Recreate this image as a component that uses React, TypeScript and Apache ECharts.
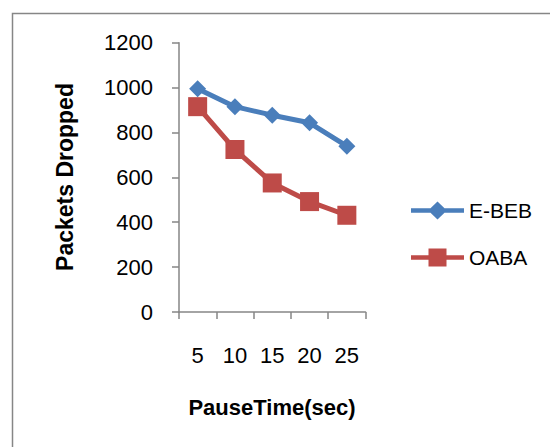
import React, { useEffect, useRef } from "react";
import * as echarts from "echarts";

const categories = ["5", "10", "15", "20", "25"];
const ebeb = [995, 915, 877, 843, 739];
const oaba = [915, 724, 575, 492, 431];
const yTicks = { min: 0, max: 1200, interval: 200 };

const diamondIcon =
  "path://M0 6.75 L19.5 6.75 L26.5 0 L33.5 6.75 L53 6.75 L53 11.25 L33.5 11.25 L26.5 18 L19.5 11.25 L0 11.25 Z";
const squareIcon =
  "path://M0 6.75 L17.5 6.75 L17.5 0 L35.5 0 L35.5 6.75 L53 6.75 L53 11.25 L35.5 11.25 L35.5 18 L17.5 18 L17.5 11.25 L0 11.25 Z";

export default function App() {
  const ref = useRef<HTMLDivElement>(null);
  useEffect(() => {
    if (!ref.current) return;
    const chart = echarts.init(ref.current, undefined, { renderer: "svg" });
    const font = "'Liberation Sans', Arial, sans-serif";
    const axisColor = "#868686";
    chart.setOption({
      animation: false,
      backgroundColor: "#ffffff",
      textStyle: { fontFamily: font },
      graphic: [
        {
          type: "rect",
          shape: { x: 12.5, y: 13.5, width: 700, height: 600 },
          style: { fill: "none", stroke: "#868686", lineWidth: 1.5 },
          silent: true,
        },
        {
          type: "text",
          x: 65,
          y: 177,
          rotation: Math.PI / 2,
          style: {
            text: "Packets Dropped",
            font: `bold 23px ${font}`,
            fill: "#000",
            align: "center",
            verticalAlign: "middle",
          },
        },
        {
          type: "text",
          x: 272,
          y: 407,
          style: {
            text: "PauseTime(sec)",
            font: `bold 22px ${font}`,
            fill: "#000",
            align: "center",
            verticalAlign: "middle",
          },
        },
      ],
      legend: {
        orient: "vertical",
        left: 406,
        top: 195,
        itemWidth: 53,
        itemHeight: 18,
        itemGap: 26,
        itemStyle: { borderWidth: 0 },
        textStyle: { fontSize: 21, color: "#000", fontFamily: font },
        data: [
          { name: "E-BEB", icon: diamondIcon },
          { name: "OABA", icon: squareIcon },
        ],
      },
      grid: { left: 179, right: 184.5, top: 42.7, bottom: 135 },
      xAxis: {
        type: "category",
        data: categories,
        boundaryGap: true,
        axisLine: { lineStyle: { color: axisColor, width: 1.5 } },
        axisTick: { show: true, length: 7, lineStyle: { color: axisColor, width: 1.5 } },
        axisLabel: { margin: 32, fontSize: 22, color: "#000", fontFamily: font },
        splitLine: { show: false },
      },
      yAxis: {
        type: "value",
        min: yTicks.min,
        max: yTicks.max,
        interval: yTicks.interval,
        axisLine: { show: true, lineStyle: { color: axisColor, width: 1.5 } },
        axisTick: { show: true, length: 7, lineStyle: { color: axisColor, width: 1.5 } },
        axisLabel: {
          margin: 26,
          fontSize: 22,
          color: "#000",
          fontFamily: font,
          formatter: (v: number) => String(v),
        },
        splitLine: { show: false },
      },
      series: [
        {
          name: "E-BEB",
          type: "line",
          data: ebeb,
          symbol: "diamond",
          symbolSize: 17,
          lineStyle: { color: "#4A7EBB", width: 5 },
          itemStyle: { color: "#4A7EBB" },
        },
        {
          name: "OABA",
          type: "line",
          data: oaba,
          symbol: "rect",
          symbolSize: 19,
          lineStyle: { color: "#BE4B48", width: 5 },
          itemStyle: { color: "#BE4B48" },
        },
      ],
    });
    return () => chart.dispose();
  }, []);
  return (
    <div
      ref={ref}
      style={{ position: "fixed", left: 0, top: 0, width: 550, height: 447 }}
    />
  );
}
